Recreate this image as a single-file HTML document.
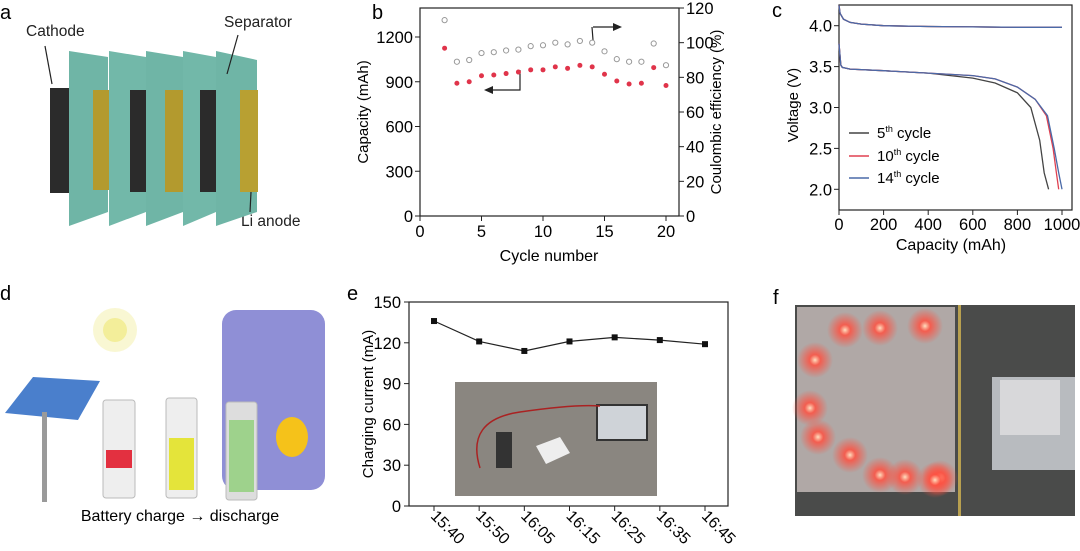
<!DOCTYPE html>
<html><head><meta charset="utf-8"><style>
body{margin:0;background:#fff}
svg{display:block;font-family:"Liberation Sans",sans-serif}
</style></head><body>
<svg id="s" width="1080" height="551" viewBox="0 0 1080 551" xmlns="http://www.w3.org/2000/svg">
<!-- Panel a -->
<g>
<text x="0" y="19" font-size="20">a</text>
<text x="26" y="36" font-size="15.5" fill="#222">Cathode</text>
<text x="224" y="27" font-size="15.5" fill="#222">Separator</text>
<text x="241" y="226" font-size="15.5" fill="#222">Li anode</text>
<rect x="50" y="88" width="19" height="105" fill="#2b2b2b"/>
<polygon points="69,51 108,57 108,212 69,226" fill="#6fb5a6"/>
<rect x="93" y="90" width="16" height="100" fill="#b39a2e"/>
<polygon points="109,51 146,57 146,212 109,226" fill="#72b8a9"/>
<rect x="130" y="90" width="16" height="102" fill="#2b2b2b"/>
<polygon points="146,51 183,57 183,212 146,226" fill="#6fb5a6"/>
<rect x="165" y="90" width="18" height="102" fill="#b39a2e"/>
<polygon points="183,51 216,57 216,212 183,226" fill="#72b8a9"/>
<rect x="200" y="90" width="16" height="102" fill="#2b2b2b"/>
<polygon points="216,51 257,60 257,212 216,226" fill="#6fb5a6"/>
<rect x="240" y="90" width="18" height="102" fill="#b8a032"/>
<line x1="45" y1="46" x2="52" y2="84" stroke="#222" stroke-width="1.2"/>
<line x1="238" y1="35" x2="227" y2="74" stroke="#222" stroke-width="1.2"/>
<line x1="250" y1="212" x2="251" y2="192" stroke="#222" stroke-width="1.2"/>
</g>
<!-- Panel b -->
<g id="pb">
<text x="372" y="19" font-size="20">b</text>
<rect x="420" y="8" width="259" height="208" fill="none" stroke="#222" stroke-width="1.2"/>
<text x="0" y="0" font-size="15" text-anchor="middle" transform="translate(368,112) rotate(-90)">Capacity (mAh)</text>
<text x="0" y="0" font-size="15" text-anchor="middle" transform="translate(721,112) rotate(-90)">Coulombic efficiency (%)</text>
<text x="549" y="261" font-size="16" text-anchor="middle">Cycle number</text>
<path d="M492,90 L520,90 L520,70 M592,27 L593,40 M593,27 L615,27" fill="none" stroke="#222" stroke-width="1.2"/>
<polygon points="484,90 493,86 493,94" fill="#222"/><polygon points="622,27 613,23 613,31" fill="#222"/>
</g>
<!-- Panel c -->
<g id="pc">
<text x="772" y="17" font-size="20">c</text>
<rect x="839" y="5" width="233" height="205" fill="none" stroke="#222" stroke-width="1.2"/>
<text x="0" y="0" font-size="15" text-anchor="middle" transform="translate(798,105) rotate(-90)">Voltage (V)</text>
<text x="951" y="250" font-size="16" text-anchor="middle">Capacity (mAh)</text>
</g>
<!-- Panel d -->
<g>
<text x="0" y="300" font-size="20">d</text>
<circle cx="115" cy="330" r="22" fill="#f8f5c8" opacity="0.8"/><circle cx="115" cy="330" r="12" fill="#f3ee9a"/>
<rect x="222" y="310" width="103" height="180" rx="14" fill="#8f8fd6"/>
<path d="M252,322 a17,17 0 1,0 13,36 a14,14 0 1,1 -13,-36z" fill="#f1c65a"/>
<polygon points="5,413 33,377 100,381 78,420" fill="#4a7fcc"/>
<rect x="42" y="412" width="5" height="90" fill="#9a9a9a"/>
<rect x="103" y="400" width="32" height="98" rx="3" fill="#eee" stroke="#bbb"/>
<rect x="106" y="450" width="26" height="18" fill="#e33040"/>
<rect x="166" y="398" width="31" height="100" rx="3" fill="#eee" stroke="#bbb"/>
<rect x="169" y="438" width="25" height="52" fill="#e4e43a"/>
<rect x="226" y="402" width="31" height="98" rx="3" fill="#ddd" stroke="#bbb"/>
<rect x="229" y="420" width="25" height="72" fill="#9ed28c"/>
<ellipse cx="292" cy="437" rx="16" ry="20" fill="#f5c21a"/>
<text x="180" y="521" font-size="16" text-anchor="middle">Battery charge → discharge</text>
</g>
<!-- Panel e -->
<g id="pe">
<text x="347" y="300" font-size="20">e</text>
<rect x="409" y="302" width="319" height="204" fill="none" stroke="#222" stroke-width="1.2"/>
<rect x="455" y="382" width="202" height="114" fill="#8a8680"/>
<rect x="597" y="405" width="50" height="35" fill="#cfd3d8" stroke="#333" stroke-width="2"/>
<rect x="496" y="432" width="16" height="36" fill="#333"/>
<polygon points="536,446 560,437 570,453 546,464" fill="#eee"/>
<path d="M480,468 Q465,420 520,412 T600,406" fill="none" stroke="#a22" stroke-width="1.5"/>
<text x="0" y="0" font-size="15" text-anchor="middle" transform="translate(373,404) rotate(-90)">Charging current (mA)</text>
</g>
<!-- Panel f -->
<g>
<text x="773" y="304" font-size="20">f</text>
<rect x="795" y="305" width="280" height="211" fill="#4a4b4a"/>
<rect x="797" y="307" width="158" height="185" fill="#b0a8a6"/>
<rect x="958" y="305" width="3" height="211" fill="#b8a050"/>
<rect x="992" y="377" width="83" height="93" fill="#b8bbbf"/>
<rect x="1000" y="380" width="60" height="55" fill="#d8d8da"/>
</g>
<defs><radialGradient id="glow"><stop offset="0" stop-color="#ffe0c0"/><stop offset="0.3" stop-color="#ff5040" stop-opacity="0.85"/><stop offset="1" stop-color="#ff5040" stop-opacity="0"/></radialGradient></defs>
<g id="leds"></g>
</svg>
<script>
const NS="http://www.w3.org/2000/svg";
function mk(p,t,a){const e=document.createElementNS(NS,t);for(const k in a)e.setAttribute(k,a[k]);p.appendChild(e);return e;}
// ---- Panel b data
const cycles=[2,3,4,5,6,7,8,9,10,11,12,13,14,15,16,17,18,19,20];
const capacity=[1125,890,900,940,945,955,965,980,980,1000,990,1010,1000,950,905,885,890,995,875];
const efficiency=[113,89,90,94,94.5,95.5,96,98,98.5,100,99,101,100,95,90.5,89,89,99.5,87];
const bXTicks=[0,5,10,15,20];
const bYTicks=[0,300,600,900,1200];
const bY2Ticks=[0,20,40,60,80,100,120];
// ---- Panel c data
const cCapTicks=[0,200,400,600,800,1000];
const cVTicks=[2.0,2.5,3.0,3.5,4.0];
const chargeCap=[0,5,20,50,100,200,400,600,800,1000];
const chargeV=[4.25,4.15,4.08,4.04,4.02,4.0,3.99,3.985,3.98,3.98];
const dis5Cap=[0,8,15,50,200,400,600,700,800,860,900,920,940];
const dis5V=[3.78,3.52,3.49,3.47,3.45,3.42,3.36,3.3,3.18,3.0,2.6,2.2,2.0];
const dis10Cap=[0,8,15,50,200,400,600,700,800,880,930,960,975,985];
const dis10V=[3.78,3.52,3.49,3.47,3.45,3.42,3.39,3.35,3.25,3.1,2.9,2.5,2.2,2.0];
const dis14Cap=[0,8,15,50,200,400,600,700,800,880,935,965,985,1000];
const dis14V=[3.78,3.52,3.49,3.47,3.45,3.42,3.39,3.35,3.25,3.1,2.9,2.5,2.2,2.0];
// ---- Panel e data
const times=["15:40","15:50","16:05","16:15","16:25","16:35","16:45"];
const current=[136,121,114,121,124,122,119];
const eYTicks=[0,30,60,90,120,150];

// Panel b
const pb=document.getElementById('pb');
const bx=v=>420+(v-0)*(666-420)/20, by=v=>216-v*179/1200, by2=v=>216-v*208/120;
bXTicks.forEach(t=>{const l=mk(pb,'line',{x1:bx(t),x2:bx(t),y1:216,y2:221,stroke:'#222'});

const tx=mk(pb,'text',{x:bx(t),y:237,'font-size':16.5,'text-anchor':'middle'});tx.textContent=t;
});
bYTicks.forEach(t=>{mk(pb,'line',{x1:415,x2:420,y1:by(t),y2:by(t),stroke:'#222'});
const tx=mk(pb,'text',{x:413,y:by(t)+6,'font-size':16.5,'text-anchor':'end'});tx.textContent=t;
});
bY2Ticks.forEach(t=>{mk(pb,'line',{x1:679,x2:684,y1:by2(t),y2:by2(t),stroke:'#222'});
const tx=mk(pb,'text',{x:686,y:by2(t)+6,'font-size':16.5});tx.textContent=t;
});
cycles.forEach((c,i)=>{
const p=mk(pb,'circle',{cx:bx(c),cy:by(capacity[i]),r:2.5,fill:'#e0344a'});

const q=mk(pb,'circle',{cx:bx(c),cy:by2(efficiency[i]),r:2.6,fill:'none',stroke:'#999','stroke-width':1});
});

// Panel c
const pc=document.getElementById('pc');
const cx=v=>839+v*223/1000, cy=v=>189.3-(v-2)*163.6/2;
cCapTicks.forEach(t=>{mk(pc,'line',{x1:cx(t),x2:cx(t),y1:210,y2:215,stroke:'#222'});
const tx=mk(pc,'text',{x:cx(t),y:230,'font-size':16.5,'text-anchor':'middle'});tx.textContent=t;
});
cVTicks.forEach(t=>{mk(pc,'line',{x1:834,x2:839,y1:cy(t),y2:cy(t),stroke:'#222'});
const tx=mk(pc,'text',{x:832,y:cy(t)+6,'font-size':16.5,'text-anchor':'end'});tx.textContent=t.toFixed(1);
});
function line(g,xs,ys,fx,fy,col,name,w){const d=xs.map((x,i)=>(i?'L':'M')+fx(x).toFixed(1)+','+fy(ys[i]).toFixed(1)).join(' ');
const p=mk(g,'path',{d:d,fill:'none',stroke:col,'stroke-width':w||1.3});}
line(pc,chargeCap,chargeV,cx,cy,'#444','charge-curve-5th');
line(pc,chargeCap,chargeV,cx,cy,'#e04050','charge-curve-10th');
line(pc,chargeCap,chargeV,cx,cy,'#4a6aa8','charge-curve-14th');
line(pc,dis5Cap,dis5V,cx,cy,'#444','discharge-curve-5th');
line(pc,dis10Cap,dis10V,cx,cy,'#e04050','discharge-curve-10th');
line(pc,dis14Cap,dis14V,cx,cy,'#4a6aa8','discharge-curve-14th');
[['#444','5','th cycle',133],['#e04050','10','th cycle',156],['#4a6aa8','14','th cycle',178]].forEach(l=>{
mk(pc,'line',{x1:849,x2:869,y1:l[3],y2:l[3],stroke:l[0],'stroke-width':1.5});
const t=mk(pc,'text',{x:877,y:l[3]+5,'font-size':15});
t.textContent=l[1];const s=document.createElementNS(NS,'tspan');s.setAttribute('font-size','9');s.setAttribute('dy','-6');s.textContent=l[2].slice(0,2);t.appendChild(s);
const s2=document.createElementNS(NS,'tspan');s2.setAttribute('dy','6');s2.textContent=l[2].slice(2);t.appendChild(s2);});

// Panel e
const pe=document.getElementById('pe');
const ex=i=>434+i*(705-434)/(times.length-1), ey=v=>506-v*204/150;
eYTicks.forEach(t=>{mk(pe,'line',{x1:404,x2:409,y1:ey(t),y2:ey(t),stroke:'#222'});
const tx=mk(pe,'text',{x:401,y:ey(t)+6,'font-size':16.5,'text-anchor':'end'});tx.textContent=t;
});
times.forEach((t,i)=>{mk(pe,'line',{x1:ex(i),x2:ex(i),y1:506,y2:511,stroke:'#222'});
const tx=mk(pe,'text',{x:0,y:0,'font-size':16,'text-anchor':'middle',transform:`translate(${ex(i)+10},${531}) rotate(45)`});tx.textContent=t;
});
line(pe,times.map((t,i)=>i),current,ex,ey,'#222','current-line',1.2);
current.forEach((v,i)=>{const r=mk(pe,'rect',{x:ex(i)-3,y:ey(v)-3,width:6,height:6,fill:'#111'});
});

// LEDs decorative
const leds=document.getElementById('leds');
[[815,360],[810,408],[818,437],[850,455],[880,475],[905,477],[940,478],[845,330],[880,328],[925,326],[935,480]].forEach(p=>{
mk(leds,'circle',{cx:p[0],cy:p[1],r:18,fill:'url(#glow)'});});
</script>
</body></html>
